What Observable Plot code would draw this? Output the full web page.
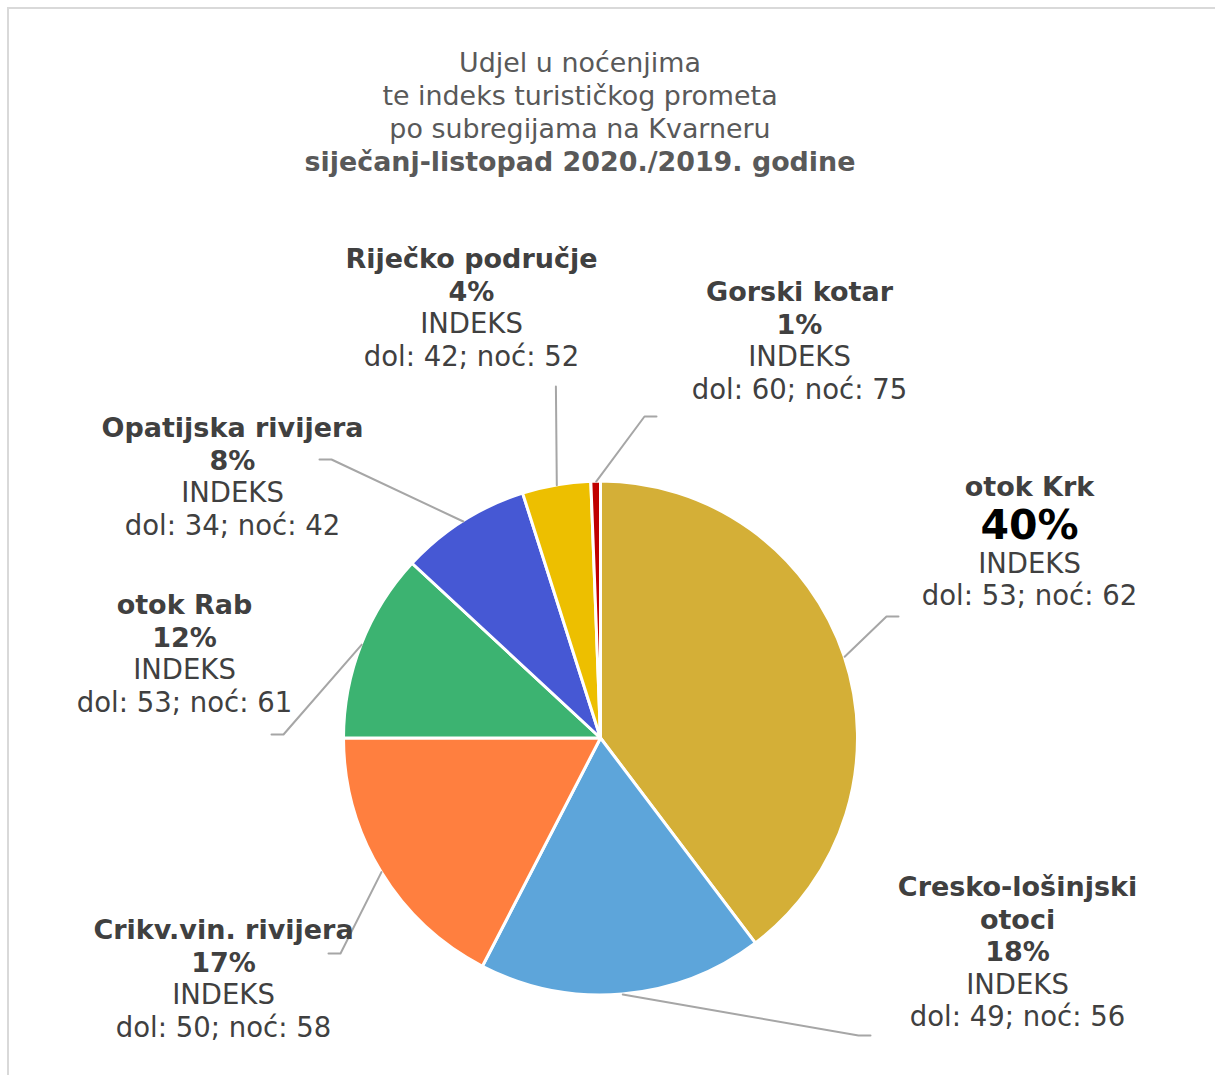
<!DOCTYPE html>
<html>
<head>
<meta charset="utf-8">
<script src="https://cdn.jsdelivr.net/npm/d3@7"></script>
<script src="https://cdn.jsdelivr.net/npm/@observablehq/plot@0.6"></script>
<style>
  html, body { margin: 0; padding: 0; background: #fff; }
  #page { position: relative; width: 1215px; height: 1075px; overflow: hidden; font-family: "DejaVu Sans", Verdana, sans-serif; }
  #frame { position: absolute; left: 7px; top: 7px; width: 1400px; height: 1400px; border-top: 2px solid #D9D9D9; border-left: 2px solid #D9D9D9; pointer-events: none; z-index: 2; }
  #title { position: absolute; left: 280px; width: 600px; top: 45.5px; text-align: center; color: #595959; font-size: 26.9px; line-height: 33px; }
  #title b { font-weight: bold; }
  #chart { position: absolute; left: 0; top: 200px; }
</style>
</head>
<body>
<div id="page">
  <div id="title">
    <div>Udjel u noćenjima</div>
    <div>te indeks turističkog prometa</div>
    <div>po subregijama na Kvarneru</div>
    <div><b>siječanj-listopad 2020./2019. godine</b></div>
  </div>
  <div id="chart"></div>
  <div id="frame"></div>
</div>
<script>
// ---- data ----
const regions = ["otok Krk", "Cresko-lošinjski otoci", "Crikv.vin. rivijera", "otok Rab", "Opatijska rivijera", "Riječko područje", "Gorski kotar"];
const shares = [39.7, 17.9, 17.4, 11.9, 8.2, 4.3, 0.6];          // udjel u noćenjima, %
const indexDolasci = [53, 49, 50, 53, 34, 42, 60];                 // indeks dolazaka
const indexNocenja = [62, 56, 58, 61, 42, 52, 75];                 // indeks noćenja

// ---- style / layout ----
const sliceColors = ["#D4AF37", "#5DA5DA", "#FF7F3F", "#3CB371", "#4658D4", "#EDBF00", "#C00000"];
const nameLines = [["otok Krk"], ["Cresko-lošinjski", "otoci"], ["Crikv.vin. rivijera"], ["otok Rab"], ["Opatijska rivijera"], ["Riječko područje"], ["Gorski kotar"]];
const labelX = [1029, 1017, 223, 184, 232, 471, 799];
const labelTop = [487, 887, 930, 605, 428, 259, 292];
const elbowX = [886, 858, 340, 283, 331, 555.4, 644];
const elbowY = [616, 1035, 953, 734, 459, 386, 416];
const endX = [898, 870, 328, 271, 319, 555.4, 656];
const pieCenter = [600.5, 738];
const pieRadius = 257;
const W = 1215, H = 875, TOP = 200;
const LINE = 32.5;

const slices = regions.map((name, i) => ({name, share: shares[i], color: sliceColors[i]}));
const arcs = d3.pie().sort(null).value(d => d.share).startAngle(0).endAngle(2 * Math.PI)(slices);

// leader lines: from slice mid-angle on the rim to elbow to label end
const leaders = [];
arcs.forEach((a, i) => {
  const mid = (a.startAngle + a.endAngle) / 2;
  leaders.push({id: i, x: pieCenter[0] + pieRadius * Math.sin(mid), y: pieCenter[1] - pieRadius * Math.cos(mid)});
  leaders.push({id: i, x: elbowX[i], y: elbowY[i]});
  leaders.push({id: i, x: endX[i], y: elbowY[i]});
});

// label text rows
const boldRows = [], normalRows = [], bigRows = [];
slices.forEach((s, i) => {
  let y = labelTop[i];
  nameLines[i].forEach(t => { boldRows.push({x: labelX[i], y, text: t}); y += LINE; });
  const pct = Math.round(s.share) + "%";
  if (i === 0) {
    y += 5.6; bigRows.push({x: labelX[i], y, text: pct}); y += LINE + 5.6;
  } else {
    boldRows.push({x: labelX[i], y, text: pct}); y += LINE;
  }
  normalRows.push({x: labelX[i], y, text: "INDEKS"}); y += LINE;
  normalRows.push({x: labelX[i], y, text: `dol: ${indexDolasci[i]}; noć: ${indexNocenja[i]}`});
});

function pieMark(index, scales) {
  const cx = scales.x(pieCenter[0]), cy = scales.y(pieCenter[1]);
  const r = scales.x(pieCenter[0] + pieRadius) - cx;
  const arc = d3.arc().innerRadius(0).outerRadius(r);
  const g = d3.create("svg:g").attr("transform", `translate(${cx},${cy})`);
  g.selectAll("path").data(arcs).join("path")
    .attr("d", arc)
    .attr("fill", d => d.data.color)
    .attr("stroke", "#fff")
    .attr("stroke-width", 3)
    .attr("stroke-linejoin", "round");
  return g.node();
}

const chart = Plot.plot({
  width: W, height: H, margin: 0,
  x: {domain: [0, W], range: [0, W], axis: null},
  y: {domain: [TOP, TOP + H], range: [0, H], axis: null},
  style: {background: "transparent", fontFamily: '"DejaVu Sans", Verdana, sans-serif', overflow: "visible"},
  marks: [
    pieMark,
    Plot.line(leaders, {x: "x", y: "y", z: "id", stroke: "#A6A6A6", strokeWidth: 2}),
    Plot.text(boldRows, {x: "x", y: "y", text: "text", fontSize: 27, fontWeight: "bold", fill: "#404040", textAnchor: "middle", lineAnchor: "middle"}),
    Plot.text(bigRows, {x: "x", y: "y", text: "text", fontSize: 41, fontWeight: "bold", fill: "#000000", textAnchor: "middle", lineAnchor: "middle"}),
    Plot.text(normalRows, {x: "x", y: "y", text: "text", fontSize: 27.5, fill: "#404040", textAnchor: "middle", lineAnchor: "middle"})
  ]
});
document.getElementById("chart").appendChild(chart);
</script>
</body>
</html>
